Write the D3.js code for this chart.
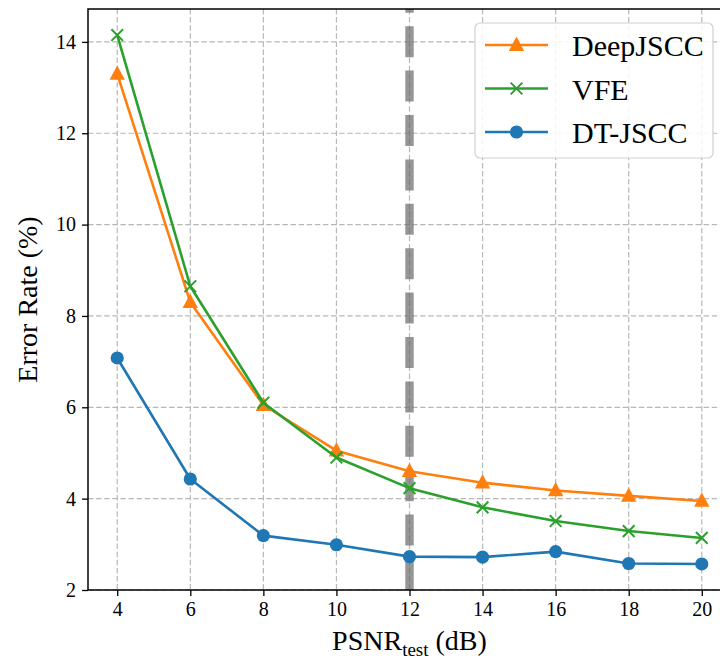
<!DOCTYPE html>
<html>
<head>
<meta charset="utf-8">
<script src="https://cdn.jsdelivr.net/npm/d3@7"></script>
<style>
  html, body { margin: 0; padding: 0; background: #fff; }
  svg { display: block; font-family: "Liberation Serif", "DejaVu Serif", serif; }
</style>
</head>
<body>
<svg id="chart" width="720" height="660"></svg>
<script>
// x values (PSNR_test in dB)
const psnr = [4, 6, 8, 10, 12, 14, 16, 18, 20];
// error rate (%) per method
const deepjscc = [13.3, 8.3, 6.05, 5.05, 4.6, 4.35, 4.18, 4.06, 3.95];
const vfe = [14.15, 8.65, 6.1, 4.9, 4.23, 3.81, 3.51, 3.29, 3.14];
const dtjscc = [7.08, 4.43, 3.19, 2.99, 2.73, 2.72, 2.84, 2.58, 2.57];
const xTicks = [4, 6, 8, 10, 12, 14, 16, 18, 20];
const yTicks = [2, 4, 6, 8, 10, 12, 14];
const trainPsnr = 12;

const series = [
  { name: "DeepJSCC", values: deepjscc, color: "#ff7f0e", marker: "triangle" },
  { name: "VFE", values: vfe, color: "#2ca02c", marker: "x" },
  { name: "DT-JSCC", values: dtjscc, color: "#1f77b4", marker: "circle" }
];

var svg = d3.select("#chart");
var margin = { left: 88, top: 9, right: 731, bottom: 590 };

var x = d3.scaleLinear().domain([3.2, 20.8]).range([margin.left, margin.right]);
var y = d3.scaleLinear().domain([2, 14.72]).range([margin.bottom, margin.top]);

// grid
var grid = svg.append("g").attr("stroke", "#b8b8b8").attr("stroke-width", 1.2)
  .attr("stroke-dasharray", "5.5,2.6");
grid.selectAll(".gx").data(xTicks).join("line")
  .attr("x1", d => x(d)).attr("x2", d => x(d))
  .attr("y1", margin.top).attr("y2", margin.bottom);
grid.selectAll(".gy").data(yTicks).join("line")
  .attr("x1", margin.left).attr("x2", margin.right)
  .attr("y1", d => y(d)).attr("y2", d => y(d));

// thick dashed vertical line at training PSNR
svg.append("line")
  .attr("x1", x(trainPsnr)).attr("x2", x(trainPsnr))
  .attr("y1", y.range()[0]).attr("y2", y.range()[1])
  .attr("stroke", "#6e6e6e").attr("stroke-opacity", 0.72)
  .attr("stroke-width", 8.4).attr("stroke-dasharray", "31,13.4");

function drawMarker(g, type, color, cx, cy, s) {
  if (type === "triangle") {
    var h = s;
    g.append("path")
      .attr("d", `M${cx},${cy - h * 0.6}L${cx + h * 0.55},${cy + h * 0.42}L${cx - h * 0.55},${cy + h * 0.42}Z`)
      .attr("fill", color);
  } else if (type === "x") {
    var r = s * 0.45;
    g.append("path")
      .attr("d", `M${cx - r},${cy - r}L${cx + r},${cy + r}M${cx - r},${cy + r}L${cx + r},${cy - r}`)
      .attr("stroke", color).attr("stroke-width", 2).attr("fill", "none");
  } else {
    g.append("circle").attr("cx", cx).attr("cy", cy).attr("r", s * 0.47).attr("fill", color);
  }
}

var line = d3.line().x(d => x(d[0])).y(d => y(d[1]));

series.forEach(function (s) {
  var pts = psnr.map((p, i) => [p, s.values[i]]);
  var g = svg.append("g");
  g.append("path").datum(pts)
    .attr("d", line)
    .attr("fill", "none")
    .attr("stroke", s.color)
    .attr("stroke-width", 2.6)
    .attr("stroke-linejoin", "round");
  pts.forEach(p => drawMarker(g, s.marker, s.color, x(p[0]), y(p[1]), s.marker === "x" ? 13 : 14));
});

// axes
var xAxis = svg.append("g").attr("transform", `translate(0,${margin.bottom})`)
  .call(d3.axisBottom(x).tickValues(xTicks).tickSize(6).tickPadding(6));
var yAxis = svg.append("g").attr("transform", `translate(${margin.left},0)`)
  .call(d3.axisLeft(y).tickValues(yTicks).tickSize(6).tickPadding(6));
[xAxis, yAxis].forEach(function (a) {
  a.selectAll("text").attr("font-family", "Liberation Serif").attr("font-size", 20).attr("fill", "#000");
  a.selectAll("line").attr("stroke", "#000").attr("stroke-width", 1.3);
  a.select(".domain").remove();
});

// spines
svg.append("rect")
  .attr("x", margin.left).attr("y", margin.top)
  .attr("width", margin.right - margin.left).attr("height", margin.bottom - margin.top)
  .attr("fill", "none").attr("stroke", "#000").attr("stroke-width", 1.5);

// axis labels
var xl = svg.append("text")
  .attr("x", (margin.left + margin.right) / 2).attr("y", 650)
  .attr("text-anchor", "middle").attr("font-size", 28);
xl.append("tspan").text("PSNR");
xl.append("tspan").attr("font-size", 19).attr("dy", 6).text("test");
xl.append("tspan").attr("dy", -6).text(" (dB)");

svg.append("text")
  .attr("transform", `translate(37,${(margin.top + margin.bottom) / 2}) rotate(-90)`)
  .attr("text-anchor", "middle").attr("font-size", 28)
  .text("Error Rate (%)");

// legend
var lg = svg.append("g");
lg.append("rect")
  .attr("x", 475).attr("y", 23).attr("width", 238).attr("height", 135)
  .attr("rx", 5).attr("fill", "#fff").attr("fill-opacity", 0.85)
  .attr("stroke", "#d0d0d0").attr("stroke-width", 1.2);
var legY = [45, 88.5, 132];
series.forEach(function (s, i) {
  lg.append("line").attr("x1", 485).attr("x2", 548).attr("y1", legY[i]).attr("y2", legY[i])
    .attr("stroke", s.color).attr("stroke-width", 2.6);
  drawMarker(lg, s.marker, s.color, 516.5, legY[i], s.marker === "x" ? 13 : 14);
  lg.append("text").attr("x", 572).attr("y", legY[i] + 11)
    .attr("font-size", 30).text(s.name);
});
</script>
</body>
</html>
